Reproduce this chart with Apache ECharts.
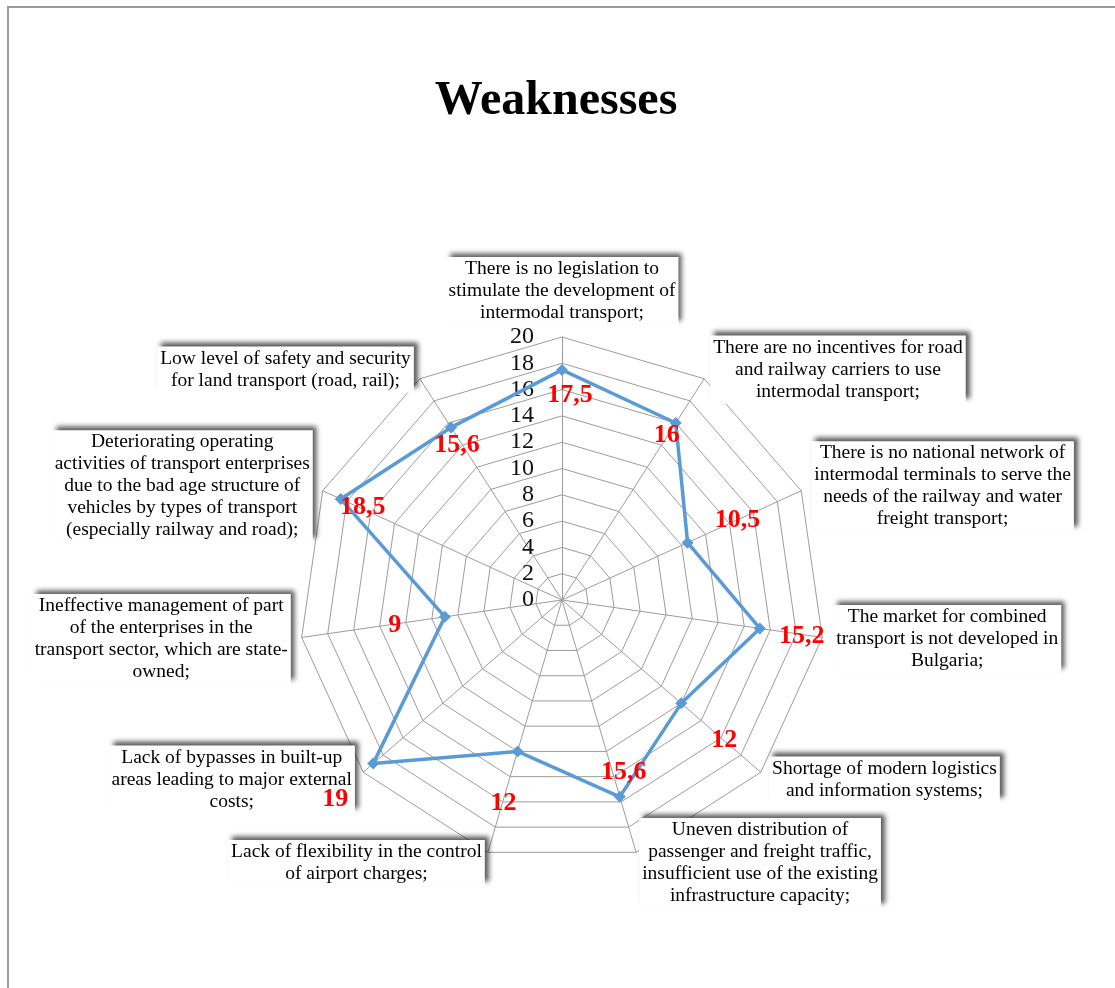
<!DOCTYPE html>
<html>
<head>
<meta charset="utf-8">
<title>Weaknesses</title>
<script src="https://cdn.jsdelivr.net/npm/echarts@6/dist/echarts.min.js"></script>
<style>
  html, body { margin: 0; padding: 0; background: #fff; overflow: hidden; }
  #frame { position: absolute; left: 7px; top: 6px; width: 1200px; height: 1100px;
           border-left: 2px solid #9a9a9a; border-top: 2px solid #9a9a9a; }
  #chart { position: absolute; left: 0; top: 0; width: 1115px; height: 988px; }
</style>
</head>
<body>
<div id="frame"></div>
<div id="chart"></div>
<script>
// categories, clockwise from the top (line breaks as in the original labels)
const categories = [
  'There is no legislation to\nstimulate the development of\nintermodal transport;',
  'There are no incentives for road\nand railway carriers to use\nintermodal transport;',
  'There is no national network of\nintermodal terminals to serve the\nneeds of the railway and water\nfreight transport;',
  'The market for combined\ntransport is not developed in\nBulgaria;',
  'Shortage of modern logistics\nand information systems;',
  'Uneven distribution of\npassenger and freight traffic,\ninsufficient use of the existing\ninfrastructure capacity;',
  'Lack of flexibility in the control\nof airport charges;',
  'Lack of bypasses in built-up\nareas leading to major external\ncosts;',
  'Ineffective management of part\nof the enterprises in the\ntransport sector, which are state-\nowned;',
  'Deteriorating operating\nactivities of transport enterprises\ndue to the bad age structure of\nvehicles by types of transport\n(especially railway and road);',
  'Low level of safety and security\nfor land transport (road, rail);'
]
const values = [17.5, 16, 10.5, 15.2, 12, 15.6, 12, 19, 9, 18.5, 15.6]
const axisMax = 20

// where each red value label sits relative to its point
const labelOffsets = [
  [8, 25], [-9, 12], [50, -22], [42, 8], [43, 37], [4, -25],
  [-14, 52], [-38, 36], [-50, 8], [22, 8], [6, 18]
]

// echarts lays radar axes out counter-clockwise, so walk the list backwards after the first
const order = categories.map((c, i) => i === 0 ? 0 : categories.length - i)
const cats = order.map(i => categories[i])
const vals = order.map(i => values[i])
const offs = order.map(i => labelOffsets[i])

const serif = '"Liberation Serif", "Times New Roman", serif'
const chart = echarts.init(document.getElementById('chart'))

const indicator = cats.map((name, i) => {
  const item = { name: name, min: 0, max: axisMax }
  if (i === 0) item.axisLabel = { show: true }
  return item
})

const labelSeries = offs.map((off, i) => ({
  type: 'radar',
  silent: true,
  symbol: 'circle',
  symbolSize: 1,
  itemStyle: { color: 'transparent' },
  lineStyle: { width: 0, opacity: 0 },
  label: {
    show: true,
    position: 'inside',
    offset: off,
    color: '#ff0000',
    fontFamily: serif,
    fontWeight: 'bold',
    fontSize: 26,
    formatter: p => p.dimensionIndex === i ? String(p.value).replace('.', ',') : ''
  },
  data: [{ value: vals }],
  z: 5
}))

chart.setOption({
  animation: false,
  title: {
    text: 'Weaknesses',
    left: 551,
    top: 73,
    textAlign: 'center',
    textStyle: { fontFamily: serif, fontWeight: 'bold', fontSize: 48, color: '#000' }
  },
  radar: {
    center: [562, 600],
    radius: 263,
    startAngle: 90,
    splitNumber: 10,
    shape: 'polygon',
    indicator: indicator,
    axisNameGap: 11,
    axisName: {
      color: '#000',
      fontFamily: serif,
      fontSize: 19,
      lineHeight: 22,
      backgroundColor: '#fff',
      padding: [1, 3],
      shadowColor: 'rgba(0,0,0,0.65)',
      shadowBlur: 5,
      shadowOffsetX: 4,
      shadowOffsetY: -4,
      formatter: name => name.split('\n').map(l => '{c|' + l + '}').join('\n'),
      rich: {
        c: { align: 'center', fontFamily: serif, fontSize: 19.5, lineHeight: 22, color: '#000' }
      }
    },
    axisLine: { lineStyle: { color: '#9c9c9c', width: 1 } },
    splitLine: { lineStyle: { color: '#9c9c9c', width: 1 } },
    splitArea: { show: false },
    axisTick: { show: false },
    axisLabel: {
      show: false,
      fontFamily: serif,
      fontSize: 24,
      color: '#111',
      margin: 28
    }
  },
  series: [{
    type: 'radar',
    symbol: 'diamond',
    symbolSize: 12,
    itemStyle: { color: '#5b9bd5' },
    lineStyle: { color: '#5b9bd5', width: 3.5 },
    data: [{ value: vals, name: 'Weaknesses' }],
    z: 3
  }].concat(labelSeries)
})
</script>
</body>
</html>
